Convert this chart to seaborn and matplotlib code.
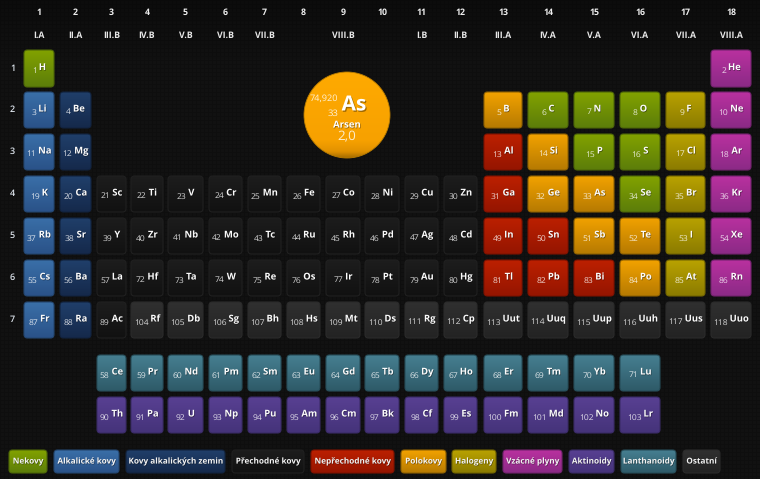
import numpy as np
import pandas as pd
import matplotlib
matplotlib.use("Agg")
import matplotlib.pyplot as plt
import matplotlib.patheffects as pe
from matplotlib.colors import to_rgb
from matplotlib.patches import FancyBboxPatch, Circle
import seaborn as sns

# Data
numbers = [1, 2, 3, 4, 5, 6, 7, 8, 9, 10, 11, 12, 13, 14, 15, 16, 17, 18, 19, 20,
           21, 22, 23, 24, 25, 26, 27, 28, 29, 30, 31, 32, 33, 34, 35, 36, 37, 38, 39, 40,
           41, 42, 43, 44, 45, 46, 47, 48, 49, 50, 51, 52, 53, 54, 55, 56, 57, 58, 59, 60,
           61, 62, 63, 64, 65, 66, 67, 68, 69, 70, 71, 72, 73, 74, 75, 76, 77, 78, 79, 80,
           81, 82, 83, 84, 85, 86, 87, 88, 89, 90, 91, 92, 93, 94, 95, 96, 97, 98, 99, 100,
           101, 102, 103, 104, 105, 106, 107, 108, 109, 110, 111, 112, 113, 114, 115, 116, 117, 118]
symbols = ["H", "He", "Li", "Be", "B", "C", "N", "O", "F", "Ne", "Na", "Mg", "Al", "Si", "P", "S", "Cl", "Ar",
           "K", "Ca", "Sc", "Ti", "V", "Cr", "Mn", "Fe", "Co", "Ni", "Cu", "Zn", "Ga", "Ge", "As", "Se", "Br", "Kr",
           "Rb", "Sr", "Y", "Zr", "Nb", "Mo", "Tc", "Ru", "Rh", "Pd", "Ag", "Cd", "In", "Sn", "Sb", "Te", "I", "Xe",
           "Cs", "Ba", "La", "Ce", "Pr", "Nd", "Pm", "Sm", "Eu", "Gd", "Tb", "Dy", "Ho", "Er", "Tm", "Yb", "Lu",
           "Hf", "Ta", "W", "Re", "Os", "Ir", "Pt", "Au", "Hg", "Tl", "Pb", "Bi", "Po", "At", "Rn",
           "Fr", "Ra", "Ac", "Th", "Pa", "U", "Np", "Pu", "Am", "Cm", "Bk", "Cf", "Es", "Fm", "Md", "No", "Lr",
           "Rf", "Db", "Sg", "Bh", "Hs", "Mt", "Ds", "Rg", "Cp", "Uut", "Uuq", "Uup", "Uuh", "Uus", "Uuo"]
columns = [1, 18, 1, 2, 13, 14, 15, 16, 17, 18, 1, 2, 13, 14, 15, 16, 17, 18,
           1, 2, 3, 4, 5, 6, 7, 8, 9, 10, 11, 12, 13, 14, 15, 16, 17, 18,
           1, 2, 3, 4, 5, 6, 7, 8, 9, 10, 11, 12, 13, 14, 15, 16, 17, 18,
           1, 2, 3, 3, 4, 5, 6, 7, 8, 9, 10, 11, 12, 13, 14, 15, 16,
           4, 5, 6, 7, 8, 9, 10, 11, 12, 13, 14, 15, 16, 17, 18,
           1, 2, 3, 3, 4, 5, 6, 7, 8, 9, 10, 11, 12, 13, 14, 15, 16,
           4, 5, 6, 7, 8, 9, 10, 11, 12, 13, 14, 15, 16, 17, 18]
rows = [1] * 2 + [2] * 8 + [3] * 8 + [4] * 18 + [5] * 18 + [6] * 3 + [8] * 14 + [6] * 15 + [7] * 3 + [9] * 14 + [7] * 15

nonmetals = [1, 6, 7, 8, 15, 16, 34]
alkali = [3, 11, 19, 37, 55, 87]
alkaline_earth = [4, 12, 20, 38, 56, 88]
post_transition = [13, 31, 49, 50, 81, 82, 83]
metalloids = [5, 14, 32, 33, 51, 52, 84]
halogens = [9, 17, 35, 53, 85]
noble_gases = [2, 10, 18, 36, 54, 86]
lanthanoids = list(numbers[57:71])
actinoids = list(numbers[89:103])
others = list(numbers[103:])

legend_labels = ["Nekovy", "Alkalické kovy", "Kovy alkalických zemin", "Přechodné kovy", "Nepřechodné kovy",
                 "Polokovy", "Halogeny", "Vzácné plyny", "Aktinoidy", "Lanthanoidy", "Ostatní"]
group_numbers = ["1", "2", "3", "4", "5", "6", "7", "8", "9", "10", "11", "12", "13", "14", "15", "16", "17", "18"]
group_names = ["I.A", "II.A", "III.B", "IV.B", "V.B", "VI.B", "VII.B", "", "VIII.B", "", "I.B", "II.B",
               "III.A", "IV.A", "V.A", "VI.A", "VII.A", "VIII.A"]
period_labels = ["1", "2", "3", "4", "5", "6", "7"]

detail_symbol = "As"
detail_number = "33"
detail_mass = "74,920"
detail_name = "Arsen"
detail_en = "2,0"

# Layout (pixels)
col_left = [24, 60, 97, 131, 168, 209, 248, 287, 326, 365, 405, 444, 484, 528, 574, 620, 666, 711]
col_right = [54, 91, 126, 163, 203, 242, 281, 320, 360, 399, 438, 477, 522, 568, 614, 660, 705, 751]
row_top = [50, 92, 134, 176, 218, 260, 302, 355, 397]
row_bottom = [87, 128, 170, 212, 254, 296, 338, 391, 433]
legend_left = [9, 54, 126, 232, 311, 401, 452, 503, 569, 621, 683]
legend_right = [47, 119, 225, 304, 394, 446, 496, 562, 614, 676, 720]

# Gradient colours per category: top, bottom, border
styles = {
    "Nekovy": ("#82a200", "#5c7d0a", "#4d6608"),
    "Alkalické kovy": ("#3a6fa8", "#2a5288", "#24466f"),
    "Kovy alkalických zemin": ("#203f6a", "#15294b", "#12233e"),
    "Přechodné kovy": ("#1d1d1d", "#111111", "#202020"),
    "Nepřechodné kovy": ("#bc2000", "#951500", "#7f1200"),
    "Polokovy": ("#f2a200", "#b67a02", "#8f6102"),
    "Halogeny": ("#b9a200", "#8b7b00", "#736500"),
    "Vzácné plyny": ("#b9319f", "#8b2a86", "#73236e"),
    "Aktinoidy": ("#584092", "#45337a", "#3a2b66"),
    "Lanthanoidy": ("#467f91", "#2e5a68", "#274d59"),
    "Ostatní": ("#303030", "#232323", "#2b2b2b"),
}
members = {"Nekovy": nonmetals, "Alkalické kovy": alkali, "Kovy alkalických zemin": alkaline_earth,
           "Nepřechodné kovy": post_transition, "Polokovy": metalloids, "Halogeny": halogens,
           "Vzácné plyny": noble_gases, "Aktinoidy": actinoids, "Lanthanoidy": lanthanoids, "Ostatní": others}
category_of = {n: c for c, ns in members.items() for n in ns}

df = pd.DataFrame({"number": numbers, "symbol": symbols, "col": columns, "row": rows})
df["category"] = df["number"].map(category_of).fillna("Přechodné kovy")
df["left"] = df["col"].map(lambda c: col_left[c - 1])
df["right"] = df["col"].map(lambda c: col_right[c - 1])
df["top"] = df["row"].map(lambda r: row_top[r - 1])
df["bottom"] = df["row"].map(lambda r: row_bottom[r - 1])
df["cx"] = (df["left"] + df["right"]) / 2
df["cy"] = (df["top"] + df["bottom"]) / 2

sns.set_theme(style="dark")
plt.rcParams["font.family"] = ["Open Sans", "DejaVu Sans"]
plt.rcParams["text.hinting"] = "none"

fig = plt.figure(figsize=(7.6, 4.79), dpi=100)
ax = fig.add_axes([0, 0, 1, 1])
ax.set_axis_off()

# background with the fine grid texture
bg = np.full((479, 760, 3), 0.067)
bg[::4, :, :] = 0.056
bg[:, ::4, :] = 0.056
fade = np.clip(np.arange(479) / 60, 0, 1)[:, None, None]
bg = bg * (0.72 + 0.28 * fade)
ax.imshow(bg, extent=(0, 760, 479, 0), aspect="auto", interpolation="nearest", zorder=0)


def gradient(stops):
    # vertical colour ramp, stops are (position, colour)
    t = np.linspace(0, 1, 64)
    pos = [s[0] for s in stops]
    rgb = np.array([to_rgb(s[1]) for s in stops])
    return np.stack([np.interp(t, pos, rgb[:, i]) for i in range(3)], axis=1)[:, None, :]


def box(left, right, top, bottom, style, z=2):
    patch = FancyBboxPatch((left, top), right - left, bottom - top,
                           boxstyle="round,pad=0,rounding_size=3.5",
                           facecolor="none", edgecolor=style[2], linewidth=0.8, zorder=z + 1)
    ax.add_patch(patch)
    im = ax.imshow(gradient([(0, style[0]), (1, style[1])]), extent=(left, right, bottom, top),
                   aspect="auto", interpolation="bilinear", zorder=z)
    im.set_clip_path(patch)


def drop_shadow(dx=0.4, dy=-0.5, alpha=0.45):
    # snap=False or the H and I outlines get snapped to pixels
    return [pe.SimplePatchShadow(offset=(dx, dy), shadow_rgbFace="black", alpha=alpha, snap=False),
            pe.Stroke(linewidth=0, snap=False)]


shadow = drop_shadow()

# element cells
sns.scatterplot(data=df, x="cx", y="cy", hue="category",
                palette={k: v[1] for k, v in styles.items()}, marker="s", s=40,
                legend=False, linewidth=0, ax=ax, zorder=1)

for _, el in df.iterrows():
    box(el["left"], el["right"], el["top"], el["bottom"], styles[el["category"]])

fig.canvas.draw()
renderer = fig.canvas.get_renderer()
for _, el in df.iterrows():
    num = ax.text(0, 0, str(el["number"]), fontsize=6.1, color="#ffffffd0", va="center", ha="left", zorder=5)
    sym = ax.text(0, 0, el["symbol"], fontsize=6.8, fontweight="bold", color="#fbfbfb", va="center", ha="left",
                  zorder=5, path_effects=shadow)
    w1 = num.get_window_extent(renderer).width
    w2 = sym.get_window_extent(renderer).width
    x0 = el["cx"] - (w1 + w2 + 2) / 2
    num.set_position((x0, el["cy"] + 2.4))
    sym.set_position((x0 + w1 + 2, el["cy"] - 0.8))

# column and row headers
for i in range(18):
    cx = (col_left[i] + col_right[i]) / 2
    ax.text(cx, 13, group_numbers[i], fontsize=6.3, fontweight="bold", color="#eeeeee",
            ha="center", va="center", zorder=5)
    ax.text(cx, 36, group_names[i], fontsize=6.3, fontweight="bold", color="#e8e8e8",
            ha="center", va="center", zorder=5)
for i, lab in enumerate(period_labels):
    ax.text(12.5, (row_top[i] + row_bottom[i]) / 2, lab, fontsize=6.5, fontweight="semibold", color="#dfe6ee",
            ha="center", va="center", zorder=5)

# big detail circle
circle = Circle((347, 115), 43, facecolor="none", edgecolor="#b97c00", linewidth=0.6, zorder=7)
ax.add_patch(circle)
im = ax.imshow(gradient([(0, "#ffaa00"), (0.8, "#f7a100"), (0.93, "#e29200"), (1, "#a86e00")]),
               extent=(304, 390, 158, 72), aspect="auto", interpolation="bilinear", zorder=6)
im.set_clip_path(circle)
ax.text(354, 105, detail_symbol, fontsize=15, fontweight="bold", color="white", ha="center", va="center",
        zorder=8, path_effects=drop_shadow(0.8, -1.0, 0.35))
ax.text(338, 98, detail_mass, fontsize=6.6, color="#ffffffd8", ha="right", va="center", zorder=8)
ax.text(338, 113.5, detail_number, fontsize=6.8, color="#ffffffd8", ha="right", va="center", zorder=8)
ax.text(347, 125, detail_name, fontsize=6.9, fontweight="bold", color="white", ha="center", va="center",
        zorder=8, path_effects=shadow)
ax.text(347, 137, detail_en, fontsize=9.6, color="#ffffffcc", ha="center", va="center", zorder=8)

# legend chips
for i, lab in enumerate(legend_labels):
    box(legend_left[i], legend_right[i], 450, 473, styles[lab])
    ax.text((legend_left[i] + legend_right[i]) / 2, 461.5, lab, fontsize=5.9, fontweight="bold", color="#f4f4f4",
            ha="center", va="center", zorder=5, path_effects=shadow)

ax.set_xlim(0, 760)
ax.set_ylim(479, 0)

fig.savefig("out.png", dpi=100)
